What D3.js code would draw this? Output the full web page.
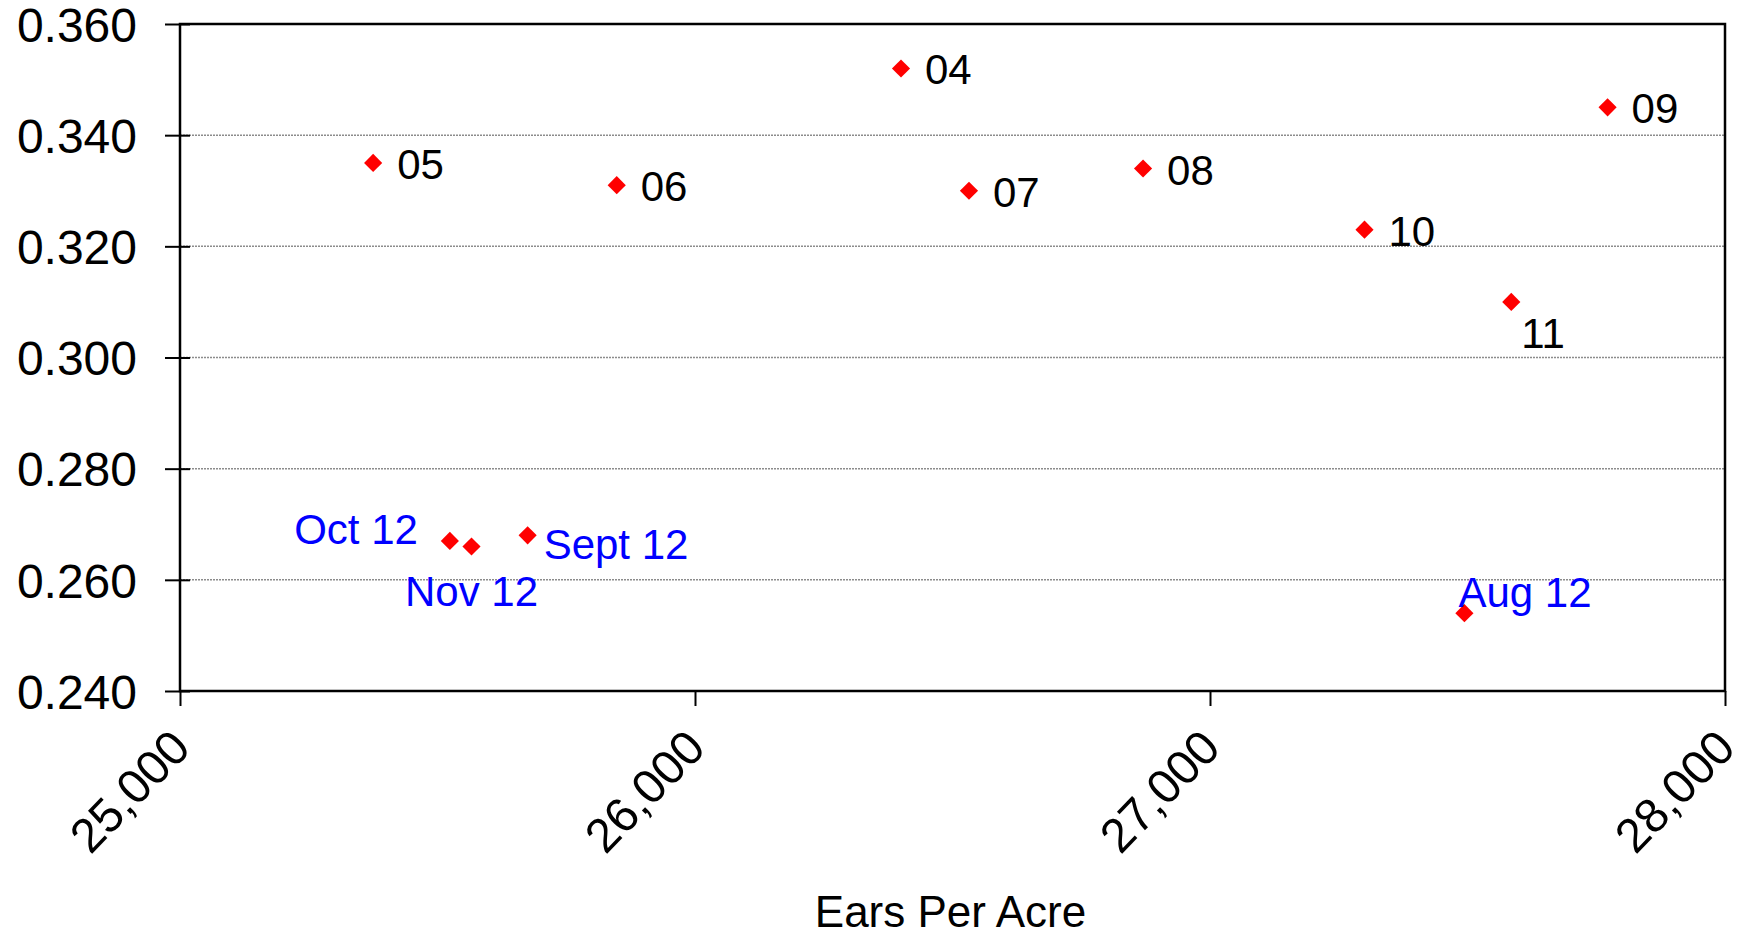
<!DOCTYPE html>
<html>
<head>
<meta charset="utf-8">
<script src="https://cdn.jsdelivr.net/npm/d3@7"></script>
<style>
    body { margin: 0; background: #fff; }
    svg { display: block; font-family: Arial, "Liberation Sans", sans-serif; }
</style>
</head>
<body>
<svg width="1742" height="932"></svg>
<script>
// Crop seasons (04..11)
var seasonLabels = ['04', '05', '06', '07', '08', '09', '10', '11'];
var seasonEars = [26400, 25375, 25848, 26532, 26870, 27772, 27300, 27585];
var seasonWeight = [0.352, 0.335, 0.331, 0.330, 0.334, 0.345, 0.323, 0.310];

// 2012 monthly estimates
var monthLabels = ['Aug 12', 'Sept 12', 'Oct 12', 'Nov 12'];
var monthEars = [27494, 25675, 25524, 25566];
var monthWeight = [0.254, 0.268, 0.267, 0.266];

var xTicks = [25000, 26000, 27000, 28000];
var yTicks = [0.240, 0.260, 0.280, 0.300, 0.320, 0.340, 0.360];
var xTitle = 'Ears Per Acre';

// label placement relative to the marker: [dx, dy, anchor]
var labelPlace = {
    '11': [10, 46, 'start'],
    'Aug 12': [-6, -6, 'start'],
    'Sept 12': [16, 24, 'start'],
    'Oct 12': [-32, 3, 'end'],
    'Nov 12': [0, 60, 'middle']
};
var defaultPlace = [24, 16, 'start'];

var plot = { left: 180, right: 1725, top: 24, bottom: 691 };

var svg = d3.select('svg');
var x = d3.scaleLinear().domain([25000, 28000]).range([plot.left, plot.right]);
var y = d3.scaleLinear().domain([0.24, 0.36]).range([plot.bottom, plot.top]);

// Gridlines
svg.append('g')
    .selectAll('line')
    .data(yTicks.slice(1, -1))
    .enter()
    .append('line')
    .attr('x1', plot.left)
    .attr('x2', plot.right)
    .attr('y1', function (d) { return y(d); })
    .attr('y2', function (d) { return y(d); })
    .attr('stroke', '#8c8c8c')
    .attr('stroke-width', 1.5)
    .attr('stroke-dasharray', '2,1');

// Y axis: ticks cross the frame line
var yAxis = svg.append('g')
    .attr('transform', 'translate(' + plot.left + ',0)')
    .call(d3.axisLeft(y).tickValues(yTicks).tickFormat(d3.format('.3f')).tickSize(15));
yAxis.select('.domain').remove();
yAxis.selectAll('.tick line')
    .attr('x2', -15)
    .attr('x1', 10)
    .attr('stroke', '#000')
    .attr('stroke-width', 2);
yAxis.selectAll('.tick text')
    .attr('font-size', 48)
    .attr('font-family', 'Arial, "Liberation Sans", sans-serif')
    .attr('fill', '#000')
    .attr('x', -43)
    .attr('dy', '0.36em');

// X axis
var xAxis = svg.append('g')
    .attr('transform', 'translate(0,' + plot.bottom + ')')
    .call(d3.axisBottom(x).tickValues(xTicks).tickFormat(d3.format(',')).tickSize(15));
xAxis.select('.domain').remove();
xAxis.selectAll('.tick line')
    .attr('stroke', '#000')
    .attr('stroke-width', 2);
xAxis.selectAll('.tick text')
    .attr('font-size', 48)
    .attr('font-family', 'Arial, "Liberation Sans", sans-serif')
    .attr('fill', '#000')
    .attr('text-anchor', 'end')
    .attr('x', null)
    .attr('y', null)
    .attr('dy', null)
    .attr('transform', 'translate(12,59) rotate(-46)');

// Frame
svg.append('rect')
    .attr('x', plot.left)
    .attr('y', plot.top)
    .attr('width', plot.right - plot.left)
    .attr('height', plot.bottom - plot.top)
    .attr('fill', 'none')
    .attr('stroke', '#000')
    .attr('stroke-width', 2.5);

svg.append('text')
    .attr('x', (plot.left + plot.right) / 2 - 2)
    .attr('y', 927)
    .attr('text-anchor', 'middle')
    .attr('font-size', 44)
    .attr('fill', '#000')
    .text(xTitle);

var diamond = d3.symbol().type(d3.symbolSquare).size(165);

function drawSeries(labels, ex, wt, labelColor) {
    var pts = labels.map(function (l, i) { return { label: l, ears: ex[i], w: wt[i] }; });
    var g = svg.append('g');
    g.selectAll('path')
        .data(pts)
        .enter()
        .append('path')
        .attr('d', diamond)
        .attr('fill', '#ff0000')
        .attr('transform', function (d) {
        return 'translate(' + x(d.ears) + ',' + y(d.w) + ') rotate(45)';
    });
    g.selectAll('text')
        .data(pts)
        .enter()
        .append('text')
        .attr('x', function (d) { return x(d.ears) + (labelPlace[d.label] || defaultPlace)[0]; })
        .attr('y', function (d) { return y(d.w) + (labelPlace[d.label] || defaultPlace)[1]; })
        .attr('text-anchor', function (d) { return (labelPlace[d.label] || defaultPlace)[2]; })
        .attr('font-size', 42)
        .attr('fill', labelColor)
        .text(function (d) { return d.label; });
}

drawSeries(seasonLabels, seasonEars, seasonWeight, '#000');
drawSeries(monthLabels, monthEars, monthWeight, '#0000ff');
</script>
</body>
</html>
